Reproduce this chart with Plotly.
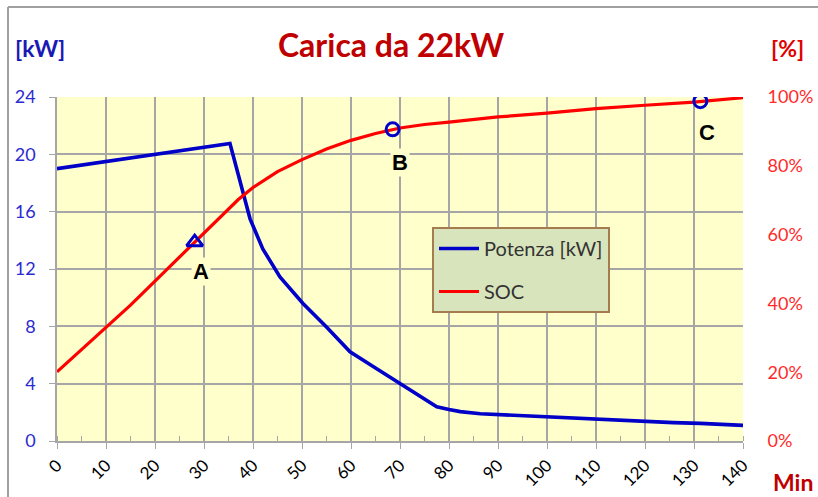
import plotly.graph_objects as go

# ---- data ----
time_power = [0, 5, 10, 15, 20, 25, 30, 35.3, 39.4, 42, 45.5, 50.2, 55, 59.8, 65, 70, 74, 77.5,
              80, 82.3, 86.4, 91.8, 97.2, 102.7, 108.1, 113.6, 119, 125.8, 131.3, 136.7, 140]
power_kw = [19.0, 19.25, 19.5, 19.75, 20.0, 20.25, 20.5, 20.75, 15.5, 13.4, 11.45, 9.6, 7.96, 6.22,
            5.1, 4.02, 3.1, 2.39, 2.2, 2.05, 1.9, 1.81, 1.74, 1.65, 1.55, 1.46, 1.39, 1.28, 1.23, 1.11, 1.09]

time_soc = [0, 5, 10, 15, 20, 25, 28, 30, 34, 37, 40, 45, 50, 55, 60, 65, 70, 75, 80,
            90, 100, 110, 120, 130, 140]
soc_pct = [20.1, 26.5, 33.0, 39.5, 46.5, 53.5, 57.8, 60.6, 66.3, 70.2, 73.7, 78.3, 81.8, 84.9,
           87.4, 89.4, 91.0, 92.0, 92.7, 94.2, 95.3, 96.6, 97.6, 98.5, 99.8]

marker_time = [28.1, 68.5, 131.3]
marker_soc = [57.8, 90.6, 98.8]
marker_labels = ["A", "B", "C"]
label_time = [29.4, 70.0, 132.7]
label_kw = [11.8, 19.4, 21.5]

x_ticks = list(range(0, 141, 10))
y_ticks = list(range(0, 25, 4))
y2_ticks = list(range(0, 101, 20))
y2_labels = ["0%", "20%", "40%", "60%", "80%", "100%"]

FONT = "Lato"
GRID = "#a6a6a6"

fig = go.Figure()

fig.add_trace(go.Scatter(x=time_soc, y=soc_pct, yaxis="y2", mode="lines", name="SOC",
                         line=dict(color="#ff0000", width=3.2), legendgroup="b", legendrank=2))
fig.add_trace(go.Scatter(x=time_power, y=power_kw, mode="lines", name="Potenza [kW]",
                         line=dict(color="#0000c8", width=3.6), legendgroup="a", legendrank=1))
fig.add_trace(go.Scatter(x=marker_time[:1], y=marker_soc[:1], yaxis="y2", mode="markers",
                         showlegend=False,
                         marker=dict(symbol="triangle-up-open", size=14, color="#0000c8",
                                     line=dict(width=3, color="#0000c8"))))
fig.add_trace(go.Scatter(x=marker_time[1:], y=marker_soc[1:], yaxis="y2", mode="markers",
                         showlegend=False,
                         marker=dict(symbol="circle-open", size=13, color="#0000c8",
                                     line=dict(width=3, color="#0000c8"))))

for lab, tx, ty in zip(marker_labels, label_time, label_kw):
    fig.add_annotation(x=tx, y=ty, text="<b>%s</b>" % lab, showarrow=False,
                       font=dict(family="Liberation Sans", size=22, color="#000000"),
                       bgcolor="#ffffcc", borderpad=1)

fig.update_layout(
    width=818, height=497,
    margin=dict(l=57, r=75, t=97, b=56, autoexpand=False),
    paper_bgcolor="#ffffff",
    plot_bgcolor="#ffffcc",
    font=dict(family=FONT),
    title=dict(text="<b>Carica da 22kW</b>", x=391 / 818, xanchor="center", y=1 - 46 / 497,
               yanchor="middle", font=dict(family=FONT, size=32, color="#c00000")),
    xaxis=dict(range=[0, 140], tickvals=x_ticks, tickangle=-45, showgrid=True, gridcolor=GRID,
               gridwidth=1.5, showline=True, linecolor=GRID, linewidth=1.5, ticks="outside",
               ticklen=6, tickcolor=GRID, tickfont=dict(family=FONT, size=17, color="#000000"),
               zeroline=False, automargin=False,
               minor=dict(dtick=5, ticks="inside", ticklen=5, tickcolor=GRID, showgrid=False)),
    yaxis=dict(range=[0, 24], tickvals=y_ticks, showgrid=True, gridcolor=GRID, gridwidth=1.5,
               showline=True, linecolor=GRID, linewidth=1.5, ticks="outside", ticklen=6,
               tickcolor=GRID, ticklabelstandoff=10, zeroline=False, automargin=False,
               tickfont=dict(family=FONT, size=18, color="#2b2bd0")),
    yaxis2=dict(range=[0, 100], tickvals=y2_ticks, ticktext=y2_labels, overlaying="y",
                side="right", showgrid=False, zeroline=False, ticks="outside", ticklen=20,
                tickcolor="rgba(0,0,0,0)", automargin=False,
                tickfont=dict(family=FONT, size=18, color="#ff2a2a")),
    legend=dict(x=(432 - 57) / 686, y=(441 - 227) / 344, xanchor="left", yanchor="top",
                bgcolor="#d8e4bc", bordercolor="#a57c4f", borderwidth=2,
                font=dict(family=FONT, size=20, color="#333333"),
                tracegroupgap=14, itemwidth=40),
    showlegend=True,
)

# axis unit labels
fig.add_annotation(xref="paper", yref="paper", x=(40 - 57) / 686, y=(441 - 48) / 344,
                   text="<b>[kW]</b>", showarrow=False, xanchor="center", yanchor="middle",
                   font=dict(family=FONT, size=23, color="#1a1ab4"))
fig.add_annotation(xref="paper", yref="paper", x=(787 - 57) / 686, y=(441 - 48) / 344,
                   text="<b>[%]</b>", showarrow=False, xanchor="center", yanchor="middle",
                   font=dict(family=FONT, size=23, color="#e00000"))
fig.add_annotation(xref="paper", yref="paper", x=(793 - 57) / 686, y=(441 - 482) / 344,
                   text="<b>Min</b>", showarrow=False, xanchor="center", yanchor="middle",
                   font=dict(family=FONT, size=23, color="#c00000"))

# outer chart frame
fx = (8 - 57) / 686
fy = (441 - 7) / 344
fig.add_shape(type="line", xref="paper", yref="paper", x0=fx, y0=fy, x1=1.2, y1=fy,
              line=dict(color="#a0a0a0", width=2))
fig.add_shape(type="line", xref="paper", yref="paper", x0=fx, y0=fy, x1=fx, y1=-0.3,
              line=dict(color="#a0a0a0", width=2))

fig.write_html("out.html", config={"displayModeBar": False},
               post_script="document.body.style.margin='0px';document.body.style.overflow='hidden';")
